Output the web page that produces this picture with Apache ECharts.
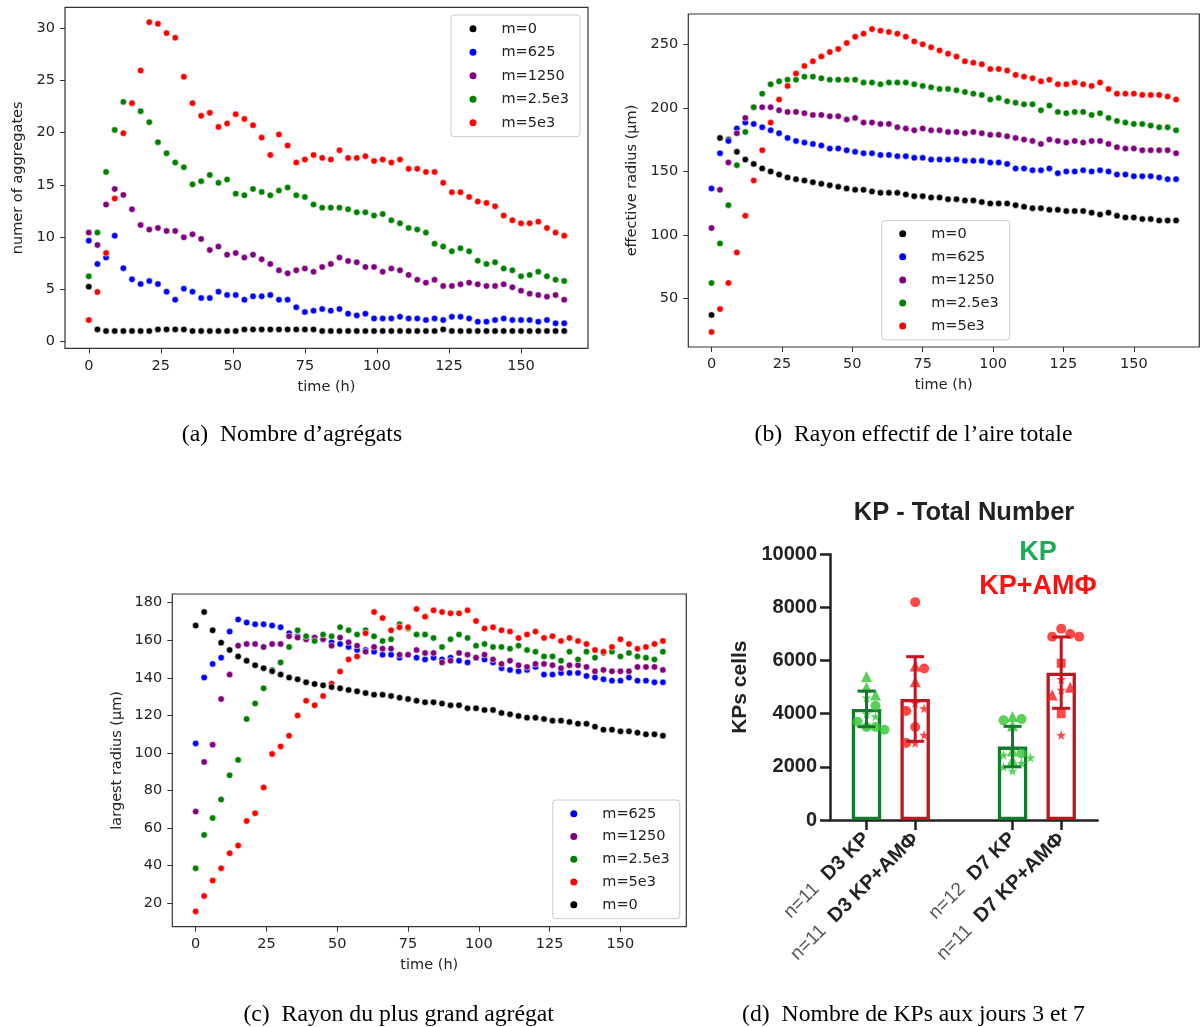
<!DOCTYPE html>
<html><head><meta charset="utf-8">
<script src="https://cdn.jsdelivr.net/npm/echarts@6/dist/echarts.min.js"></script>
<style>html,body{margin:0;padding:0;background:#fff}#c{width:1200px;height:1027px}</style>
</head><body><div id="c"></div>
<script>
// ---------- shared ----------
const hours = [0,3,6,9,12,15,18,21,24,27,30,33,36,39,42,45,48,51,54,57,60,63,66,69,72,75,78,81,84,87,90,93,96,99,102,105,108,111,114,117,120,123,126,129,132,135,138,141,144,147,150,153,156,159,162,165];
const xTicks = [0,25,50,75,100,125,150];
const seriesNames = ['m=0','m=625','m=1250','m=2.5e3','m=5e3'];
const seriesColors = {'m=0':'#000000','m=625':'#0000ff','m=1250':'#800080','m=2.5e3':'#008000','m=5e3':'#ff0000'};

// ---------- (a) number of aggregates ----------
const aTicks = [0,5,10,15,20,25,30];
const a_m0 = [5.27,1.18,1.02,1.02,1.02,1.02,1.02,1.02,1.18,1.18,1.18,1.18,1.02,1.02,1.02,1.02,1.02,1.02,1.18,1.18,1.18,1.18,1.18,1.18,1.18,1.18,1.18,1.02,1.02,1.02,1.02,1.02,1.02,1.02,1.02,1.02,1.02,1.02,1.02,1.02,1.02,1.18,1.02,1.02,1.02,1.02,1.02,1.02,1.02,1.02,1.02,1.02,1.02,1.02,1.02,1.02];
const a_m625 = [9.67,7.44,8.05,10.15,7.03,5.97,5.52,5.81,5.52,4.79,4.02,5.08,4.79,4.18,4.18,4.79,4.47,4.47,4.02,4.34,4.34,4.47,4.02,4.02,3.29,2.84,2.97,3.13,2.97,3.13,2.68,2.52,2.68,2.23,2.23,2.23,2.39,2.23,2.23,2.07,2.23,2.07,2.39,2.39,2.23,1.92,1.92,2.07,2.23,2.07,2.07,2.07,1.92,2.07,1.76,1.76];
const a_m1250 = [10.44,9.26,13.12,14.62,14.05,12.68,11.17,10.73,10.89,10.6,10.6,9.99,10.28,9.84,8.78,9.1,8.33,8.49,8.05,8.33,7.89,7.44,6.83,6.54,6.83,7.0,6.7,7.15,7.44,8.05,7.72,7.6,7.15,7.15,6.7,7.0,6.83,6.39,5.93,5.65,5.93,5.33,5.33,5.49,5.65,5.49,5.33,5.33,5.49,5.21,4.88,4.6,4.47,4.31,4.47,4.02];
const a_m2500 = [6.26,10.44,16.25,20.27,22.95,22.83,22.06,21.01,19.09,18.04,17.15,16.69,15.06,15.36,15.96,15.2,15.52,14.17,14.01,14.62,14.33,14.01,14.46,14.75,14.01,13.85,13.12,12.83,12.83,12.83,12.68,12.38,12.38,12.07,12.22,11.62,11.33,10.89,10.73,10.44,9.38,9.1,8.65,8.94,8.65,7.75,7.44,7.6,7.0,6.83,6.26,6.39,6.7,6.26,5.93,5.81];
const a_m5000 = [2.07,4.75,8.49,13.7,19.95,22.83,25.95,30.58,30.42,29.53,29.09,25.35,22.83,21.62,21.9,20.55,20.88,21.77,21.32,20.71,19.53,17.87,19.83,18.77,17.15,17.43,17.87,17.59,17.43,18.32,17.59,17.59,17.75,17.3,17.43,17.15,17.43,16.54,16.54,16.25,16.25,15.2,14.31,14.31,13.85,13.41,13.28,12.96,12.07,11.62,11.33,11.33,11.49,10.89,10.44,10.15];

// ---------- (b) effective radius ----------
const bTicks = [50,100,150,200,250];
const b_m0 = [36.9,176.5,175.2,165.5,159.4,156,152.4,150,147.6,145.3,144,142.9,141.6,140.3,139.2,137.9,136.6,135.6,135.6,134.3,133.2,133.2,133.2,131.9,130.6,130.6,129.5,129.5,128.2,128.2,127.2,127.2,125.9,124.8,124.8,124.8,123.5,122.2,121.1,121.1,119.8,119.8,118.8,118.8,118.8,117.5,116.1,117.5,115.1,113.8,113.8,112.5,112.5,111.4,111.4,111.4];
const b_m625 = [136.6,164.4,174.1,183.9,188.6,187.5,184.9,182.5,180.2,176.5,174.1,172.8,171.8,170.5,168.1,168.1,166.8,165.5,164.4,164.4,163.1,163.1,162.1,162.1,160.8,160.8,159.4,159.4,159.4,159.4,158.4,158.4,158.4,157.1,157.1,156,152.4,152.4,151,151,152.4,148.7,150,150,151,150,151,150,147.6,147.6,146.3,146.3,146.3,145.3,144,144];
const b_m1250 = [105.4,135.6,157.1,180.2,192.3,200.7,200.7,200.7,198.3,197,197,196,194.6,194.6,193.6,193.6,191,192.3,188.6,188.6,187.5,187.5,184.9,183.9,182.5,183.9,182.5,182.5,181.2,181.2,180.2,181.2,180.2,178.9,178.9,177.8,176.5,175.2,174.1,171.8,175.2,174.1,172.8,174.1,172.8,174.1,174.1,171.8,169.2,168.1,168.1,166.8,166.8,166.8,166.8,164.4];
const b_m2500 = [62.1,93.3,123.5,155,181.2,200.7,211.4,218.8,221.1,222.4,222.4,224.8,224.8,223.5,222.4,222.4,222.4,222.4,220.1,220.1,218.8,220.1,220.1,220.1,218.8,217.5,216.4,215.1,215.1,214,212.7,211.4,210.4,206.7,208,205.4,204.3,203,203,198.3,202,197,196,197,197,194.6,196,192.3,189.9,188.6,187.5,187.5,186.2,184.9,184.9,182.5];
const b_m5000 = [23.5,41.6,62.1,86.2,115.1,142.9,166.8,188.6,206.7,217.5,227.2,233.2,236.9,240.6,244.2,246.6,251.3,256.3,258.7,262.3,261,260,258.7,256.3,252.6,250.3,247.9,245.5,242.9,240.6,236.9,235.8,234.5,230.8,230.8,229.6,226.2,224.8,223.5,221.1,222.4,218.8,218.8,220.1,218.8,217.5,220.1,215.1,211.4,211.4,211.4,210.4,210.4,210.4,209.1,206.7];

// ---------- (c) largest radius ----------
const cTicks = [20,40,60,80,100,120,140,160,180];
const c_m0 = [167.8,175,165.3,158.7,154.8,151.4,149.1,146.7,145.1,143.5,141.7,140.1,139.2,137.6,136.7,136,135.1,134.4,133.5,132.8,131.9,131,131,130.3,129.4,128.7,127.8,127,127,126.3,125.4,125.4,123.8,123.8,122.9,122.9,121.3,120.6,119.7,118.8,118.8,118.1,117.2,117.2,116.5,115.6,115.6,114,112.4,112.4,111.5,111.5,110.8,109.9,109.9,109.2];
const c_m625 = [105.1,140.1,147.4,150.7,164.6,171,169.4,168.5,168.5,167.8,166.9,163.7,162.1,160.5,160.5,160.5,158.9,158,156.4,154.8,154.8,153.9,152.3,152.3,150.7,152.3,150.7,149.8,150.7,149.8,150.7,149.1,148.2,150.7,149.8,148.2,145.1,144.2,143.5,144.2,145.8,141.7,141.7,142.6,142.6,142.6,141,140.1,139.2,138.5,138.5,140.1,138.5,138.5,137.6,137.6];
const c_m1250 = [68.8,95.2,104.4,128.7,141.7,157.1,158,158,156.4,158,158,162.1,161.4,160.5,161.4,160.5,157.1,161.4,158.9,157.1,153.9,156.4,155.5,155.5,152.3,152.3,154.8,153.2,153.2,148.2,149.1,153.2,152.3,150.7,152.3,149.8,147.4,149.1,146.7,145.8,147.4,147.4,146.7,145.1,146.7,146.7,145.8,143.5,144.2,143.5,143.5,143.5,145.8,145.8,145.8,144.2];
const c_m2500 = [38.6,56.4,65.4,75.2,88.1,96.3,118.1,126.3,134.4,144.2,148.2,156.4,165.3,162.1,159.6,163,162.1,166.9,165.3,163,165.3,162.1,159.6,160.5,168.5,166.2,163,163,161.2,156.4,160.5,163,161.2,157.1,158,156.4,156.4,155.5,157.1,154.8,153.9,151.4,151.4,149.1,153.9,149.8,153.9,150.7,153.2,153.9,151.4,153.2,151.4,150.7,149.8,153.9];
const c_m5000 = [15.7,23.9,32.1,38.6,46.6,50.7,63.8,67.9,81.6,99.5,103.5,109.2,119.9,127.8,125.4,130.3,136.9,143.3,149.8,151.4,163.7,175,171.8,165.3,166.9,166.9,176.6,172.5,175.9,175,174.3,174.3,175.9,170.2,166.2,166.9,165.3,164.6,161.2,163,164.6,161.2,162.1,159.6,161.2,159.6,158,154.8,153.9,156.4,160.5,158,155.5,156.4,158,159.6];

// ---------- (d) KP total number ----------
const dCategories = ['D3 KP','D3 KP+AMΦ','D7 KP','D7 KP+AMΦ'];
const dCounts = [11,11,12,11];
const d3kp = [5400,5000,4700,4600,4300,4000,3900,3700,3500,3400,3500];
const d3kpSym = ['triangle','triangle','triangle','star','circle','star','star','circle','circle','circle','circle'];
const d3amf = [8200,5800,5700,5200,4400,4200,4100,3500,3200,2900,2900];
const d3amfSym = ['circle','triangle','circle','triangle','star','star','circle','circle','star','star','circle'];
const d7kp = [3900,3800,3750,3550,2600,2500,2450,2350,2250,2150,2000,1850];
const d7kpSym = ['triangle','circle','circle','triangle','triangle','circle','star','star','triangle','star','star','star'];
const d7amf = [7200,7000,6900,6900,5900,5300,5000,4900,4700,4000,3200];
const d7amfSym = ['circle','circle','circle','circle','square','star','triangle','star','triangle','square','star'];

// ================= build =================
const mpl = {fontFamily:'DejaVu Sans', fontSize:14.5, color:'#222'};
const grids = [
  {left:65, top:7.3, width:523, height:341},
  {left:688.3, top:14, width:511, height:333},
  {left:172.3, top:594, width:514, height:332.7},
  {left:830, top:554.3, width:267.7, height:265.7}
];
grids.forEach((g,i)=>{ g.outerBoundsMode='none'; g.containLabel=false;
  if(i<3){g.show=true; g.borderColor='#333'; g.borderWidth=1.2; g.backgroundColor='transparent';} });

function mplX(gi){
  return {gridIndex:gi, type:'value', min:-8.25, max:173.25,
    axisLine:{show:false, onZero:false}, splitLine:{show:false},
    axisTick:{show:true, length:5, lineStyle:{color:'#333', width:1}, customValues:xTicks},
    axisLabel:Object.assign({customValues:xTicks, margin:10}, mpl),
    name:'time (h)', nameLocation:'middle', nameGap:31, nameTextStyle:Object.assign({}, mpl)};
}
function mplY(gi, min, max, ticks, name, gap){
  return {gridIndex:gi, type:'value', min:min, max:max,
    axisLine:{show:false, onZero:false}, splitLine:{show:false},
    axisTick:{show:true, length:5, lineStyle:{color:'#333', width:1}, customValues:ticks},
    axisLabel:Object.assign({customValues:ticks, margin:10}, mpl),
    name:name, nameLocation:'middle', nameGap:gap, nameTextStyle:Object.assign({}, mpl)};
}

const xAxes = [mplX(0), mplX(1), mplX(2)];
const yAxes = [
  mplY(0, -0.63, 32.0, aTicks, 'numer of aggregates', 39),
  mplY(1, 11.65, 274.2, bTicks, 'effective radius (µm)', 49),
  mplY(2, 7.55, 184.6, cTicks, 'largest radius (µm)', 48)
];

const series = [];
function addPanel(gi, arrs, order){
  order.forEach(name=>{
    series.push({type:'scatter', name:name, xAxisIndex:gi, yAxisIndex:gi,
      data: hours.map((h,i)=>[h, arrs[name][i]]),
      symbol:'circle', symbolSize:6.5,
      itemStyle:{color:seriesColors[name], borderColor:'#ffffff', borderWidth:0.6, opacity:1},
      emphasis:{disabled:true}, silent:true});
  });
}
addPanel(0, {'m=0':a_m0,'m=625':a_m625,'m=1250':a_m1250,'m=2.5e3':a_m2500,'m=5e3':a_m5000}, seriesNames);
addPanel(1, {'m=0':b_m0,'m=625':b_m625,'m=1250':b_m1250,'m=2.5e3':b_m2500,'m=5e3':b_m5000}, seriesNames);
const cOrder = ['m=625','m=1250','m=2.5e3','m=5e3','m=0'];
addPanel(2, {'m=0':c_m0,'m=625':c_m625,'m=1250':c_m1250,'m=2.5e3':c_m2500,'m=5e3':c_m5000}, cOrder);

function mplLegend(left, top, pad, gap, data){
  return {show:true, orient:'vertical', left:left, top:top, padding:pad, itemGap:gap,
    itemWidth:7, itemHeight:7, icon:'circle', data:data, selectedMode:false,
    itemStyle:{borderWidth:0},
    backgroundColor:'rgba(255,255,255,0.8)', borderColor:'#cccccc', borderWidth:1, borderRadius:3,
    textStyle:Object.assign({padding:[0,0,0,20], lineHeight:14}, mpl)};
}
const legends = [
  mplLegend(451, 15, [6.3,11,6.3,18.5], 8.5, seriesNames),
  mplLegend(881.7, 220.7, [5.6,11,6.3,17.5], 8.05, seriesNames),
  mplLegend(552.8, 800, [6.3,10,6.3,17.5], 7.75, cOrder)
];

// ---- panel (d) ----
const groups = [
  {vals:d3kp, sym:d3kpSym, kind:'KP'},
  {vals:d3amf, sym:d3amfSym, kind:'KP+AMΦ'},
  {vals:d7kp, sym:d7kpSym, kind:'KP'},
  {vals:d7amf, sym:d7amfSym, kind:'KP+AMΦ'}
];
// slot layout: 11 slots, two pairs separated by a gap
const slotOf = [1,3,7,9];
const slotNames = [];
for(let s=0;s<11;s++){ const k=slotOf.indexOf(s); slotNames.push(k>=0?dCategories[k]:'gap'+s); }
const mean = a=>a.reduce((p,c)=>p+c,0)/a.length;
const sd = a=>{const m=mean(a); return Math.sqrt(a.reduce((p,c)=>p+(c-m)*(c-m),0)/(a.length-1));};
const dark = {'KP':'#137a2e','KP+AMΦ':'#c0161e'};
const bright = {'KP':'#2fc42f','KP+AMΦ':'#ff1a1a'};
const starPath = 'path://M50,0 L61,35 L98,35 L68,57 L79,91 L50,70 L21,91 L32,57 L2,35 L39,35 Z';
const symMap = {circle:'circle', triangle:'triangle', square:'rect', star:starPath};
const sizeMap = {circle:10, triangle:11, square:9, star:10};
const pxPerUnit = 265.7/10000;
function swarm(values, step){
  const placed=[], offs=new Array(values.length);
  const order = values.map((v,i)=>i).sort((a,b)=>values[b]-values[a]);
  for(const i of order){
    const y = values[i]*pxPerUnit;
    for(let k=0;k<40;k++){
      const dx = k===0?0:((k%2)?1:-1)*Math.ceil(k/2)*step;
      if(placed.every(p=>Math.abs(p.x-dx)>=step||Math.abs(p.y-y)>=step)){offs[i]=dx; placed.push({x:dx,y:y}); break;}
    }
  }
  return offs;
}
['KP','KP+AMΦ'].forEach(kind=>{
  const barData = slotNames.map(()=> '-');
  const errData = [], ptData = [];
  groups.forEach((g,k)=>{
    if(g.kind!==kind) return;
    const m=mean(g.vals), s=sd(g.vals);
    barData[slotOf[k]] = m;
    errData.push([slotOf[k], m-s, m+s]);
    const offs = swarm(g.vals, 9);
    g.vals.forEach((v,i)=>ptData.push({value:[slotOf[k], v], symbol:symMap[g.sym[i]], symbolSize:sizeMap[g.sym[i]], symbolOffset:[offs[i],0]}));
  });
  series.push({type:'bar', name:kind, xAxisIndex:3, yAxisIndex:3, data:barData, barWidth:29.4, barGap:'-100%',
    itemStyle:{color:'#ffffff', borderColor:dark[kind], borderWidth:3.3}, emphasis:{disabled:true}, silent:true, z:2});
  series.push({type:'scatter', name:kind+' pts', xAxisIndex:3, yAxisIndex:3, data:ptData,
    itemStyle:{color:bright[kind]}, emphasis:{disabled:true}, silent:true, z:3});
  series.push({type:'custom', name:kind+' err', xAxisIndex:3, yAxisIndex:3, data:errData, z:4, silent:true,
    encode:{x:0, y:[1,2]},
    renderItem:(params, api)=>{
      const x=api.value(0), lo=api.value(1), hi=api.value(2);
      const pH=api.coord([x,hi]), pL=api.coord([x,lo]);
      const st={stroke:dark[kind], lineWidth:3};
      return {type:'group', children:[
        {type:'line', shape:{x1:pH[0],y1:pH[1],x2:pL[0],y2:pL[1]}, style:st},
        {type:'line', shape:{x1:pH[0]-9,y1:pH[1],x2:pH[0]+9,y2:pH[1]}, style:st},
        {type:'line', shape:{x1:pL[0]-9,y1:pL[1],x2:pL[0]+9,y2:pL[1]}, style:st}]};
    }});
});

const arial = 'Liberation Sans, Arial, sans-serif';
xAxes.push({gridIndex:3, type:'category', data:slotNames, boundaryGap:true,
  axisLine:{show:true, onZero:false, lineStyle:{color:'#222', width:2.5}},
  axisTick:{show:true, alignWithLabel:true, length:10, lineStyle:{color:'#222', width:2.5},
    interval:(idx)=>slotOf.indexOf(idx)>=0},
  axisLabel:{interval:0, rotate:45, margin:16,
    formatter:(v, idx)=>{const k=slotOf.indexOf(idx); return k>=0?('{n|n='+dCounts[k]+'}{b|'+dCategories[k]+'}'):'';},
    rich:{n:{fontFamily:arial, fontSize:19, color:'#555', fontWeight:'normal', padding:[0,12,0,0]},
          b:{fontFamily:arial, fontSize:20, color:'#222', fontWeight:'bold'}}},
  splitLine:{show:false}});
yAxes.push({gridIndex:3, type:'value', min:0, max:10000, interval:2000,
  axisLine:{show:true, onZero:false, lineStyle:{color:'#222', width:2.5}},
  axisTick:{show:true, length:10, lineStyle:{color:'#222', width:2.5}},
  axisLabel:{margin:13, fontFamily:arial, fontSize:20, fontWeight:'bold', color:'#222', formatter:v=>String(v)},
  splitLine:{show:false},
  name:'KPs cells', nameLocation:'middle', nameGap:79, nameTextStyle:{fontFamily:arial, fontSize:21, fontWeight:'bold', color:'#222'}});

const serif = {fontFamily:'Liberation Serif, Times New Roman, serif', fontSize:23.7, fontWeight:'normal', color:'#000'};
const titles = [
  {text:'(a)\u2002Nombre d\u2019agrégats', left:292, top:422.5, textAlign:'center', padding:0, textStyle:serif},
  {text:'(b)\u2002Rayon effectif de l\u2019aire totale', left:913.5, top:422.5, textAlign:'center', padding:0, textStyle:serif},
  {text:'(c)\u2002Rayon du plus grand agrégat', left:398.7, top:1002.5, textAlign:'center', padding:0, textStyle:serif},
  {text:'(d)\u2002Nombre de KPs aux jours 3 et 7', left:913.5, top:1002.5, textAlign:'center', padding:0, textStyle:serif},
  {text:'KP - Total Number', left:964, top:500, textAlign:'center', padding:0, textStyle:{fontFamily:arial, fontSize:25.5, fontWeight:'bold', color:'#222'}},
  {text:'KP', left:1038, top:539, textAlign:'center', padding:0, textStyle:{fontFamily:arial, fontSize:27, fontWeight:'bold', color:'#19ad55'}},
  {text:'KP+AMΦ', left:1038, top:573, textAlign:'center', padding:0, textStyle:{fontFamily:arial, fontSize:27, fontWeight:'bold', color:'#ff1010'}}
];

const chart = echarts.init(document.getElementById('c'), null, {renderer:'canvas'});
chart.setOption({animation:false, backgroundColor:'#ffffff', grid:grids, xAxis:xAxes, yAxis:yAxes,
  legend:legends, title:titles, series:series, tooltip:{show:false}});
</script>
</body></html>
